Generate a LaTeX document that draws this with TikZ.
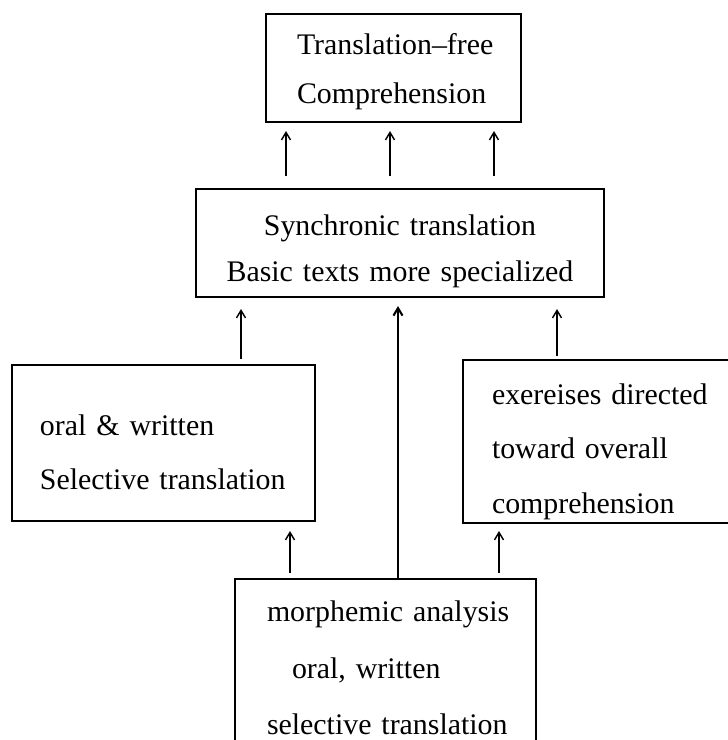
\documentclass[tikz,border=0pt]{standalone}
\usepackage{fontspec}
\setmainfont{Liberation Serif}
\usetikzlibrary{arrows.meta,positioning}

\begin{document}
\begin{tikzpicture}[
    stagebox/.style={draw,line width=1.2pt,inner ysep=0pt,align=left},
    upar/.style={line width=0.8pt,-{Straight Barb[length=1.5mm,width=1.8mm]}}]
    \useasboundingbox (0,0) rectangle (14.56,-14.8);
    \clip (0,0) rectangle (14.56,-14.8);
    \node[stagebox,font=\fontsize{17}{28}\selectfont,inner xsep=0.62cm,text width=3.86cm,minimum height=2.16cm] (top) at (7.87,-1.36)
      {\rule{0pt}{0.56cm}\mbox{Translation--free}\\Comprehension};
    \node[stagebox,font=\fontsize{17}{26}\selectfont,inner xsep=0.3cm,text width=7.56cm,minimum height=2.16cm,align=center] (mid) at (8.0,-4.86)
      {\rule{0pt}{0.74cm}Synchronic translation\\Basic texts more\ specialized};
    \node[stagebox,font=\fontsize{17}{31}\selectfont,inner xsep=0.56cm,text width=4.94cm,minimum height=3.12cm] (sel) at (3.27,-8.86)
      {\rule{0pt}{0.78cm}oral \& written\\Selective translation};
    \node[stagebox,font=\fontsize{17}{31}\selectfont,inner xsep=0.58cm,text width=5.44cm,minimum height=3.26cm] (exer) at (12.56,-8.83)
      {\rule{0pt}{0.82cm}exereises directed\\toward overall\\comprehension};
    \node[stagebox,font=\fontsize{17}{32}\selectfont,inner xsep=0.64cm,text width=4.74cm,minimum height=3.56cm] (morph) at (7.71,-13.36)
      {\mbox{morphemic analysis}\\\hspace*{0.5cm}oral, written\\\mbox{selective translation}};
    % arrows
    \foreach \dx in {-2.28,-0.2,1.88}
      \draw[upar,shorten <=0.24cm,shorten >=0.16cm] ([xshift=\dx cm]mid.north) -- ([xshift=\dx cm]mid.north |- top.south);
    \draw[upar,shorten <=0.1cm,shorten >=0.22cm] ([xshift=1.55cm]sel.north) -- ([xshift=1.55cm]sel.north |- mid.south);
    \draw[upar,shorten <=0.06cm,shorten >=0.22cm] ([xshift=-1.42cm]exer.north) -- ([xshift=-1.42cm]exer.north |- mid.south);
    \draw[upar,line width=1.2pt,shorten >=0.16cm] ([xshift=0.25cm]morph.north) -- ([xshift=0.25cm]morph.north |- mid.south);
    \draw[upar,shorten <=0.1cm,shorten >=0.18cm] ([xshift=-1.91cm]morph.north) -- ([xshift=-1.91cm]morph.north |- sel.south);
    \draw[upar,shorten <=0.1cm,shorten >=0.14cm] ([xshift=2.27cm]morph.north) -- ([xshift=2.27cm]morph.north |- exer.south);
\end{tikzpicture}
\end{document}
